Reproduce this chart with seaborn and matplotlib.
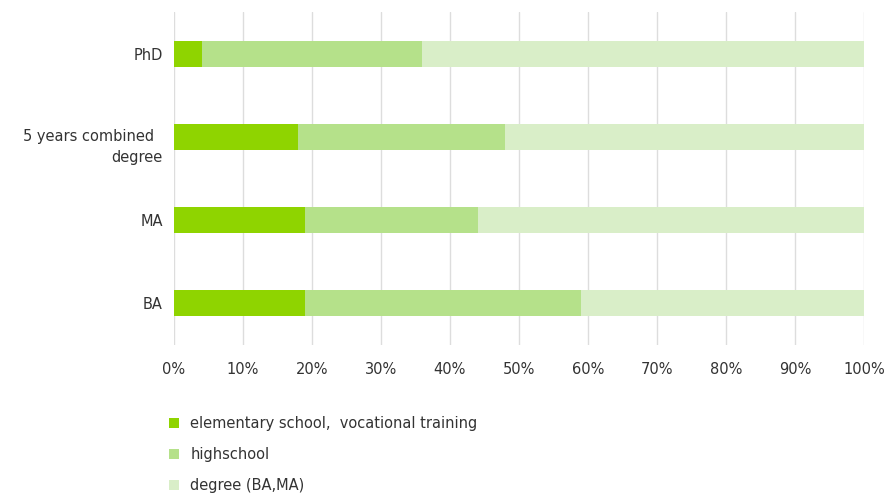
import matplotlib
matplotlib.use("Agg")
import matplotlib.pyplot as plt
import seaborn as sns
import pandas as pd
import numpy as np
from matplotlib.patches import Patch
from matplotlib.ticker import PercentFormatter
from matplotlib.transforms import ScaledTranslation

categories = ["PhD", "5 years combined  \ndegree", "MA", "BA"]
series_names = ["elementary school,  vocational training", "highschool", "degree (BA,MA)"]
elementary = [4, 18, 19, 19]
highschool = [32, 30, 25, 40]
degree = [64, 52, 56, 41]
colors = ["#8fd400", "#b5e18a", "#d9eec8"]
x_ticks = [0, 10, 20, 30, 40, 50, 60, 70, 80, 90, 100]

sns.set_theme(style="white")
plt.rcParams["font.family"] = ["DejaVu Sans"]

df = pd.DataFrame({"category": categories, "elem": elementary, "high": highschool, "deg": degree})
df["c1"] = df["elem"]
df["c2"] = df["elem"] + df["high"]
df["c3"] = df["c2"] + df["deg"]

fig = plt.figure(figsize=(8.9, 4.93), dpi=100)
ax = fig.add_axes([174 / 890, 1 - 345 / 493, 690 / 890, 333 / 493])

for col, c in zip(["c3", "c2", "c1"], colors[::-1]):
    sns.barplot(data=df, x=col, y="category", orient="h", color=c, width=0.31,
                ax=ax, saturation=1, linewidth=0, order=categories)

ax.set_xlim(0, 100)
ax.set_ylim(3.5, -0.5)
ax.set_xticks(x_ticks)
ax.xaxis.set_major_formatter(PercentFormatter(decimals=0))
ax.set_xlabel("")
ax.set_ylabel("")
ax.grid(axis="x", color="#dddddd", linewidth=1)
ax.set_axisbelow(True)
for s in ax.spines.values():
    s.set_visible(False)
ax.tick_params(axis="both", length=0, labelsize=10.5, colors="#333333")
ax.tick_params(axis="x", pad=12)
ax.tick_params(axis="y", pad=8)
for lbl in ax.get_yticklabels():
    lbl.set_horizontalalignment("right")
    lbl.set_multialignment("right")
    lbl.set_linespacing(1.5)
    if "\n" in lbl.get_text():
        lbl.set_transform(lbl.get_transform() + ScaledTranslation(0, -0.06, fig.dpi_scale_trans))

handles = [Patch(facecolor=c, edgecolor="none") for c in colors]
fig.legend(handles, series_names, loc="upper left", bbox_to_anchor=(156 / 890, 1 - 403 / 493),
           frameon=False, fontsize=10.5, labelcolor="#333333", handlelength=0.7,
           handleheight=0.7, handletextpad=0.75, labelspacing=1.1)

fig.savefig("out.png", dpi=100)
